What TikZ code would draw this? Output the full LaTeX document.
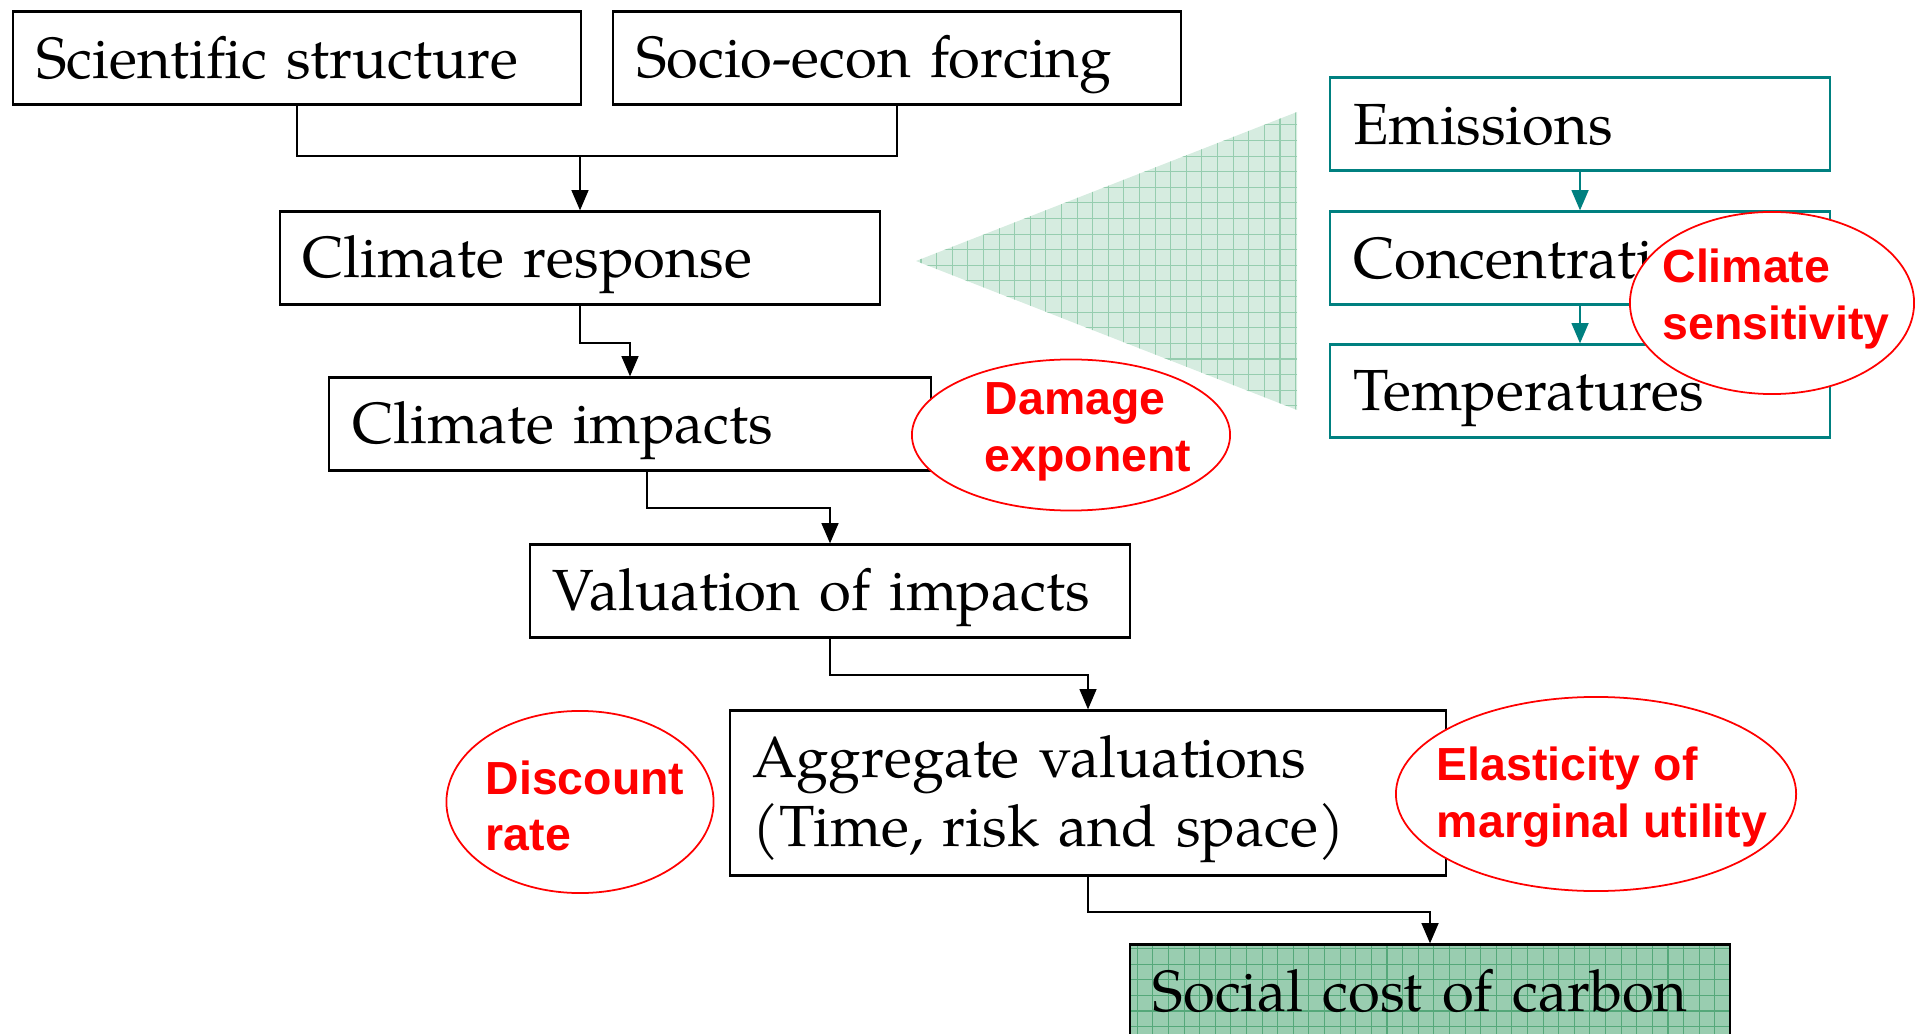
\documentclass[tikz,border=0pt]{standalone}
\usepackage{fontspec}
\setmainfont{TeX Gyre Pagella}
\newfontfamily\notefont{Liberation Sans}
\usetikzlibrary{arrows.meta}

\definecolor{boxteal}{RGB}{0,128,128}
\definecolor{notered}{RGB}{255,0,0}
\definecolor{mintlight}{RGB}{214,236,224}
\definecolor{mintline}{RGB}{150,205,175}
\definecolor{mintdark}{RGB}{153,205,176}
\definecolor{mintdarkline}{RGB}{85,168,122}

\tikzset{
  stage/.style={draw, line width=0.6pt, inner xsep=0.23cm, inner ysep=0pt,
    minimum height=0.93cm, text width=#1, align=left,
    font=\fontsize{16.5}{19.6}\selectfont,
    execute at begin node={\rule[-0.15cm]{0pt}{0.7cm}}},
  chain/.style={stage=4.53cm, draw=boxteal},
  flow/.style={-{Triangle[width=4.8pt,length=5.8pt]}, line width=0.6pt},
  ring/.style={draw=notered, fill=white, line width=0.5pt},
  notetext/.style={text=notered, align=left, inner sep=0pt,
    font=\notefont\bfseries\fontsize{13.2}{16.1}\selectfont},
  gridfill/.style={path picture={\draw[#1, line width=0.3pt, step=0.156cm]
    (path picture bounding box.south west) grid (path picture bounding box.north east);}}
}

\begin{document}
\begin{tikzpicture}[x=0.01cm,y=-0.01cm]
  \clip (0,0) rectangle (1928,1034);

  \path[fill=mintlight, gridfill=mintline] (916,261) -- (1297,112) -- (1297,410) -- cycle;

  \node[stage=5.21cm] (sci) at (297,58) {Scientific structure};
  \node[stage=5.21cm] (soc) at (897,58) {Socio-econ forcing};
  \node[stage=5.54cm] (resp) at (580,258) {Climate response};
  \node[stage=5.55cm] (imp) at (630,424) {Climate impacts};
  \node[stage=5.54cm] (val) at (830,591) {Valuation of impacts};
  \node[stage=6.70cm, minimum height=1.65cm] (agg) at (1088,793) {Aggregate valuations\\(Time, risk and space)};
  \node[stage=5.54cm, fill=mintdark, gridfill=mintdarkline] (scc) at (1430,991) {Social cost of carbon};

  \node[chain] (emi) at (1580,124) {Emissions};
  \node[chain] (conc) at (1580,258) {Concentrations};
  \node[chain] (temp) at (1580,391) {Temperatures};

  \coordinate (join) at (580,156);
  \draw[line width=0.6pt] (sci.south) |- (join) -| (soc.south);
  \draw[flow] (join) -- (resp.north);
  \draw[flow] (resp.south) -- ++(0,37) -| (imp.north);
  \draw[flow] ([xshift=0.17cm]imp.south) -- ++(0,36) -| (val.north);
  \draw[flow] (val.south) -- ++(0,36) -| (agg.north);
  \draw[flow] (agg.south) -- ++(0,35) -| (scc.north);
  \draw[flow, boxteal] (emi.south) -- (conc.north);
  \draw[flow, boxteal] (conc.south) -- (temp.north);

  \draw[ring] (1772,303) ellipse [x radius=1.42cm, y radius=0.91cm];
  \node[notetext] (sens) at (1776,299) {Climate\\sensitivity};
  \draw[ring] (1071,435) ellipse [x radius=1.59cm, y radius=0.755cm];
  \node[notetext] (dmg) at (1088,432) {Damage\\exponent};
  \draw[ring] (580,802) ellipse [x radius=1.335cm, y radius=0.91cm];
  \node[notetext] (disc) at (585,806) {Discount\\rate};
  \draw[ring] (1596,794) ellipse [x radius=2.0cm, y radius=0.97cm];
  \node[notetext] (elas) at (1602,797) {Elasticity of\\marginal utility};
\end{tikzpicture}
\end{document}
